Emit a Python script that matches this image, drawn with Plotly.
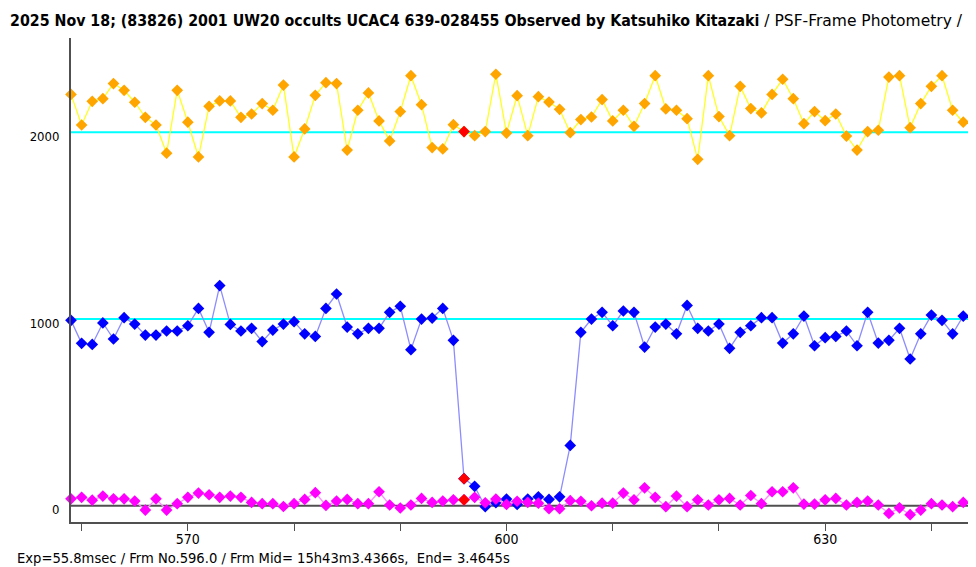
import plotly.graph_objects as go

frames = list(range(559, 644))

comp_vals = [2203, 2039, 2166, 2180, 2261, 2225, 2161, 2080, 2039, 1888, 2225, 2054, 1868, 2139, 2168, 2168, 2080, 2098, 2154, 2118, 2253, 1868,
             2018, 2198, 2266, 2261, 1905, 2118, 2211, 2061, 1954, 2111, 2303, 2148, 1918, 1911, 2041, 2004, 1982, 2004, 2311, 1996, 2196, 1982,
             2191, 2162, 2123, 1998, 2068, 2082, 2175, 2061, 2118, 2032, 2154, 2303, 2125, 2118, 2073, 1855, 2303, 2084, 1982, 2246, 2127,
             2104, 2203, 2284, 2180, 2046, 2111, 2062, 2098, 1980, 1905, 2004, 2011, 2296, 2303, 2025, 2154, 2246, 2303, 2118, 2054]

target_vals = [993, 870, 864, 979, 893, 1007, 973, 914, 914, 936, 936, 964, 1057, 929, 1179, 971, 936, 950, 879, 941, 973, 986,
               921, 907, 1057, 1134, 957, 921, 950, 950, 1036, 1068, 836, 1000, 1005, 1057, 886, 145, 104, -5, 16, 36, 7, 36,
               48, 34, 48, 323, 929, 1000, 1036, 964, 1043, 1036, 850, 957, 973, 921, 1073, 950, 936, 973, 843, 929, 964,
               1007, 1007, 871, 921, 1016, 857, 900, 907, 936, 857, 1036, 871, 886, 950, 786, 921, 1021, 993, 921, 1016]

sky_vals = [37, 45, 30, 52, 37, 37, 25, -23, 37, -23, 11, 45, 68, 59, 45, 52, 45, 18, 11, 11, -4, 11,
            34, 70, 2, 25, 34, 11, 11, 75, 4, -12, 4, 39, 18, 25, 32, 32, 45, 16, 36, 7, 24, 18,
            14, -16, -16, 27, 24, 0, 14, 14, 68, 32, 96, 45, -5, 52, -5, 32, 4, 32, 39, 4, 55,
            11, 75, 75, 96, 9, 9, 32, 39, 4, 18, 25, 4, -41, -11, -48, -23, 11, 4, -5, 18]

event_frame = 596
ref_levels = [2000, 1000]
zero_level = 0
x_tickvals = list(range(560, 641, 10))
x_labels = {570: "570", 600: "600", 630: "630"}
y_tickvals = [0, 1000, 2000]

title_bold = "2025 Nov 18; (83826) 2001 UW20 occults UCAC4 639-028455 Observed by Katsuhiko Kitazaki"
title_rest = " / PSF-Frame Photometry /"
footer = "Exp=55.8msec / Frm No.596.0 / Frm Mid= 15h43m3.4366s,  End= 3.4645s"

FONT = "Liberation Sans Narrow, DejaVu Sans Condensed, Arial Narrow, sans-serif"

# figure is placed by the page with an 8px body margin
W, H = 968, 559
ML, MR, MT, MB = 63, 0, 30, 45
PW, PH = W - ML - MR, H - MT - MB

fig = go.Figure()

series = [
    (comp_vals, "#FFFF20", "#FFA500"),
    (target_vals, "#8C8CFF", "#0000FF"),
    (sky_vals, "#FF8CFF", "#FF00FF"),
]
for vals, lc, mc in series:
    fig.add_trace(go.Scatter(
        x=frames, y=vals, mode="lines+markers",
        line=dict(color=lc, width=1.3),
        marker=dict(symbol="diamond", size=9, color=mc, line=dict(width=0)),
        cliponaxis=False, showlegend=False, hoverinfo="skip",
    ))

idx = frames.index(event_frame)
fig.add_trace(go.Scatter(
    x=[event_frame] * 3,
    y=[comp_vals[idx], target_vals[idx], sky_vals[idx]],
    mode="markers",
    marker=dict(symbol="diamond", size=9, color="#FF0000", line=dict(width=0)),
    cliponaxis=False, showlegend=False, hoverinfo="skip",
))

shapes = []
for lv in ref_levels:
    shapes.append(dict(type="line", xref="paper", x0=0, x1=1, yref="y", y0=lv, y1=lv,
                       line=dict(color="#00FFFF", width=2), layer="below"))
shapes.append(dict(type="line", xref="paper", x0=0, x1=1, yref="y", y0=zero_level, y1=zero_level,
                   line=dict(color="#505050", width=2), layer="below"))

fig.update_layout(
    width=W, height=H,
    margin=dict(l=ML, r=MR, t=MT, b=MB, autoexpand=False),
    paper_bgcolor="white", plot_bgcolor="white",
    shapes=shapes,
    font=dict(family=FONT, size=13, color="black"),
    xaxis=dict(
        range=[559, 644.2], showgrid=False, zeroline=False,
        showline=True, linecolor="#505050", linewidth=2,
        ticks="outside", ticklen=7, tickwidth=1, tickcolor="#505050",
        tickvals=x_tickvals, ticktext=[x_labels.get(v, "") for v in x_tickvals],
        tickfont=dict(family=FONT, size=14, color="black"),
        ticklabelstandoff=-4,
    ),
    yaxis=dict(
        range=[-87, 2505], showgrid=False, zeroline=False,
        showline=True, linecolor="#505050", linewidth=2,
        ticks="", tickvals=y_tickvals, ticktext=[str(v) for v in y_tickvals],
        tickfont=dict(family=FONT, size=13, color="black"),
        ticklabelstandoff=7, ticklabelshift=4,
    ),
    annotations=[
        dict(text="<b>" + title_bold + "</b>"
                  + '<span style="font-family:DejaVu Sans;font-size:15.5px">' + title_rest + "</span>",
             xref="paper", yref="paper",
             x=(0 - ML) / PW, y=1 + (MT - 12) / PH, xanchor="left", yanchor="middle", showarrow=False,
             font=dict(family=FONT, size=15.8, color="black")),
        dict(text=footer, xref="paper", yref="paper",
             x=(7 - ML) / PW, y=-35 / PH, xanchor="left", yanchor="middle", showarrow=False,
             font=dict(family=FONT, size=14.6, color="black")),
    ],
)

fig.write_html("out.html")
